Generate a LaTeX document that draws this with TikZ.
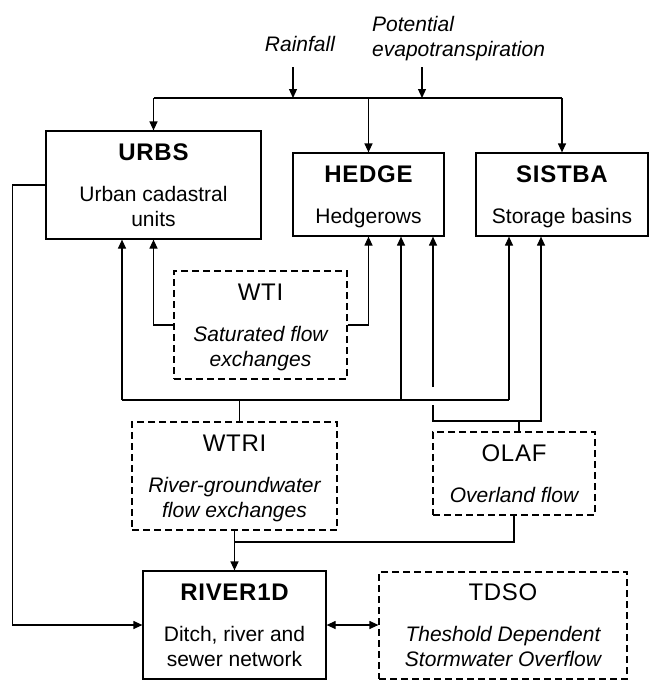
\documentclass[tikz,border=0pt]{standalone}
\usepackage{fontspec}
\setmainfont{Liberation Sans}
\usetikzlibrary{arrows.meta}
\newcommand{\modeltitle}[1]{{\bfseries\fontsize{24}{25}\selectfont\addfontfeature{LetterSpace=3}#1}}
\newcommand{\moduletitle}[1]{{\upshape\fontsize{24}{25}\selectfont\addfontfeature{LetterSpace=3}#1}}

\begin{document}
\begin{tikzpicture}[x=1pt,y=-1pt,
    model/.style={draw,line width=1.2pt,align=center,inner sep=0pt,
      text depth=0pt,font=\fontsize{21}{25}\selectfont},
    module/.style={model,dash pattern=on 7pt off 4pt,
      font=\fontsize{21}{25}\selectfont\itshape},
    forcing/.style={font=\fontsize{21}{25}\selectfont\itshape,inner sep=0pt},
    link/.style={line width=1.2pt},
    arr/.style={link,-{Triangle[length=9pt,width=8pt]}}]
    \useasboundingbox (0,0) rectangle (649,680);
    % models
    \node[model,minimum width=215pt,minimum height=108pt] (urbs) at (153.5,185)
      {\modeltitle{URBS}\\[16pt]Urban cadastral\\units};
    \node[model,minimum width=151pt,minimum height=83pt] (hedge) at (368.5,194.5)
      {\modeltitle{HEDGE}\\[16pt]Hedgerows};
    \node[model,minimum width=172pt,minimum height=83pt] (sistba) at (562,194.5)
      {\modeltitle{SISTBA}\\[16pt]Storage basins};
    \node[model,minimum width=183pt,minimum height=108pt] (river) at (234.5,625)
      {\modeltitle{RIVER1D}\\[16pt]Ditch, river and\\sewer network};
    % exchange modules
    \node[module,minimum width=173pt,minimum height=108pt] (wti) at (260.5,325)
      {\moduletitle{WTI}\\[16pt]Saturated flow\\exchanges};
    \node[module,minimum width=205pt,minimum height=108pt] (wtri) at (234.5,476)
      {\moduletitle{WTRI}\\[16pt]River-groundwater\\flow exchanges};
    \node[module,minimum width=162pt,minimum height=83pt] (olaf) at (514,473.5)
      {\moduletitle{OLAF}\\[16pt]Overland flow};
    \node[module,minimum width=248pt,minimum height=107pt] (tdso) at (503,625.5)
      {\moduletitle{TDSO}\\[16pt]Theshold Dependent\\Stormwater Overflow};
    % climate forcing
    \node[forcing] (rain) at (300,44) {Rainfall};
    \node[forcing,align=left,anchor=west] (pet) at (372,39)
      {Potential\\evapotranspiration};
    \coordinate (rainIn) at (293,67);
    \coordinate (petIn) at (422,67);
    \coordinate (busL) at (urbs.north |- 0,98);
    \coordinate (busR) at (sistba.north |- 0,98);
    \draw[link] (busL) -- (busR);
    \draw[arr] (rainIn) -- (rainIn |- busL);
    \draw[arr] (petIn) -- (petIn |- busL);
    \draw[arr] (busL) -- (urbs.north);
    \draw[arr] (hedge.north |- busL) -- (hedge.north);
    \draw[arr] (busR) -- (sistba.north);
    % saturated flow
    \draw[arr] (wti.west) -| (urbs.south);
    \draw[arr] (wti.east) -| (hedge.south);
    % river-groundwater
    \coordinate (gwL) at (122,400);
    \coordinate (gwH) at (401,400);
    \coordinate (gwR) at (509,400);
    \draw[link] (gwL) -- (gwR);
    \draw[arr] (gwL) -- (gwL |- urbs.south);
    \draw[arr] (gwH) -- (gwH |- hedge.south);
    \draw[arr] (gwR) -- (gwR |- sistba.south);
    \draw[link] ([xshift=5pt]wtri.north) -- ([xshift=5pt]wtri.north |- gwL);
    % overland flow
    \coordinate (olUp) at (433,387);
    \coordinate (olDn) at (433,405);
    \coordinate (olR) at (541,421);
    \draw[arr] (olUp) -- (olUp |- hedge.south);
    \draw[arr] (olDn) |- (olR) -- (olR |- sistba.south);
    \draw[link] ([xshift=5pt]olaf.north) -- ([xshift=5pt]olaf.north |- olR);
    % to the network
    \draw[arr] (wtri.south) -- (river.north);
    \draw[link] (olaf.south) |- (wtri.south |- 0,542);
    \draw[arr] (urbs.west) -- ++(-33,0) |- (river.west);
    \draw[link,{Triangle[length=9pt,width=8pt]}-{Triangle[length=9pt,width=8pt]}]
      (river.east) -- (river.east -| tdso.west);
\end{tikzpicture}
\end{document}
